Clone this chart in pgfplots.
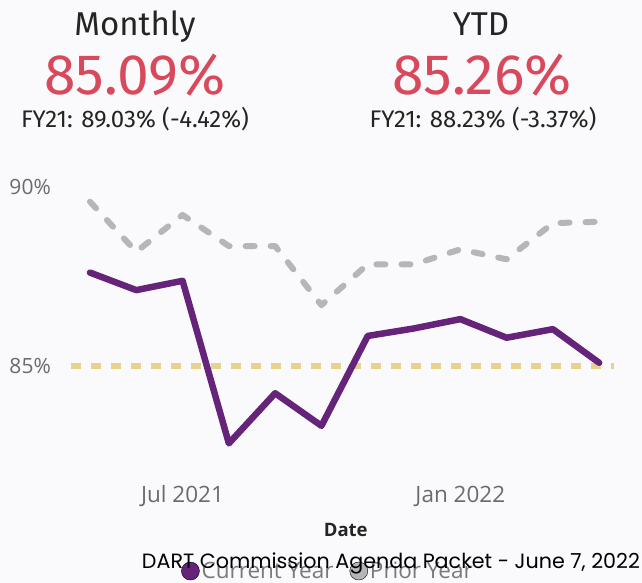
\documentclass[border=0pt]{standalone}
\usepackage{fontspec}
\setmainfont{Open Sans}
\newfontfamily\fira{Fira Sans}
\newfontfamily\pop{Poppins}
\usepackage{pgfplots}
\usepackage{pgfplotstable}
\pgfplotsset{compat=1.18}
\definecolor{bg}{HTML}{FAFAFD}
\definecolor{cur}{HTML}{66237A}
\definecolor{pri}{HTML}{B5B6BA}
\definecolor{gold}{HTML}{E9D28E}
\definecolor{kred}{HTML}{D8495B}
\definecolor{dark}{HTML}{252423}
\definecolor{tickc}{HTML}{6B6B6B}
\definecolor{legc}{HTML}{7A7A7A}

\pgfplotstableread{
x cur pri
0 87.61 89.59
1 87.12 88.19
2 87.38 89.22
3 82.84 88.35
4 84.24 88.35
5 83.33 86.70
6 85.84 87.84
7 86.05 87.84
8 86.31 88.26
9 85.79 87.98
10 86.03 88.99
11 85.09 89.03
}\datatab

\begin{document}
\begin{tikzpicture}[x=1pt,y=1pt]
\fill[bg] (0,0) rectangle (642,583);
% KPI cards
\node[anchor=base, inner sep=0pt, font=\fira\fontsize{33}{36}\selectfont, text=dark] at (135,547) {Monthly};
\node[anchor=base, inner sep=0pt, font=\fira\fontsize{57}{60}\selectfont, text=kred] at (135,488) {85.09\%};
\node[anchor=base, inner sep=0pt, font=\fira\fontsize{24}{27}\selectfont, text=dark] at (135,455) {FY21: 89.03\% (-4.42\%)};
\node[anchor=base, inner sep=0pt, font=\fira\fontsize{33}{36}\selectfont, text=dark] at (481,547) {YTD};
\node[anchor=base, inner sep=0pt, font=\fira\fontsize{57}{60}\selectfont, text=kred] at (482,488) {85.26\%};
\node[anchor=base, inner sep=0pt, font=\fira\fontsize{24}{27}\selectfont, text=dark] at (483,455) {FY21: 88.23\% (-3.37\%)};

\begin{axis}[
  at={(71pt,120.3pt)}, anchor=south west,
  scale only axis, width=543pt, height=293.6pt,
  xmin=-0.41, xmax=11.32, ymin=82.3, ymax=90.5,
  clip=false,
  axis line style={draw=none},
  major tick length=0pt,
  xtick={2,8}, xticklabels={Jul 2021, Jan 2022},
  ytick={85,90}, yticklabels={85\%, 90\%},
  yticklabel style={font=\fontsize{21}{24}\selectfont, text=tickc, anchor=east, inner sep=0pt, xshift=-20pt},
  xticklabel style={font=\fontsize{22.5}{25}\selectfont, text=tickc, anchor=north, inner sep=0pt, yshift=-23pt},
  xlabel={Date},
  xlabel style={font=\bfseries\fontsize{18.5}{22}\selectfont, text=dark, at={(axis description cs:0.506,-0.229)}, anchor=center},
  legend style={at={(0.2026,-0.369)}, anchor=west, draw=none, fill=none, inner sep=0pt,
    font=\fontsize{22.5}{25}\selectfont, text=legc, legend columns=2,
    /tikz/every even column/.append style={column sep=14pt}},
  legend image code/.code={\fill[#1] (0pt,0pt) circle (9pt);},
]
\addplot[pri, line width=6pt, dash pattern=on 9pt off 16pt, line cap=round, line join=round, mark=none, forget plot] table[x=x,y=pri]{\datatab};
\addplot[gold, line width=5.5pt, dash pattern=on 10pt off 10pt, mark=none, forget plot] coordinates {(-0.41,85) (11.32,85)};
\addplot[cur, line width=6.5pt, line cap=round, line join=round, mark=none, forget plot] table[x=x,y=cur]{\datatab};
\addlegendimage{fill=cur}
\addlegendentry{Current Year}
\addlegendimage{fill=pri}
\addlegendentry{Prior Year}
\end{axis}

\node[anchor=base, inner sep=0pt, text=black] at (391,14) {\resizebox{498pt}{!}{\pop DART Commission Agenda Packet - June 7, 2022}};

\pgfresetboundingbox
\useasboundingbox (0,0) rectangle (642,583);
\end{tikzpicture}
\end{document}
